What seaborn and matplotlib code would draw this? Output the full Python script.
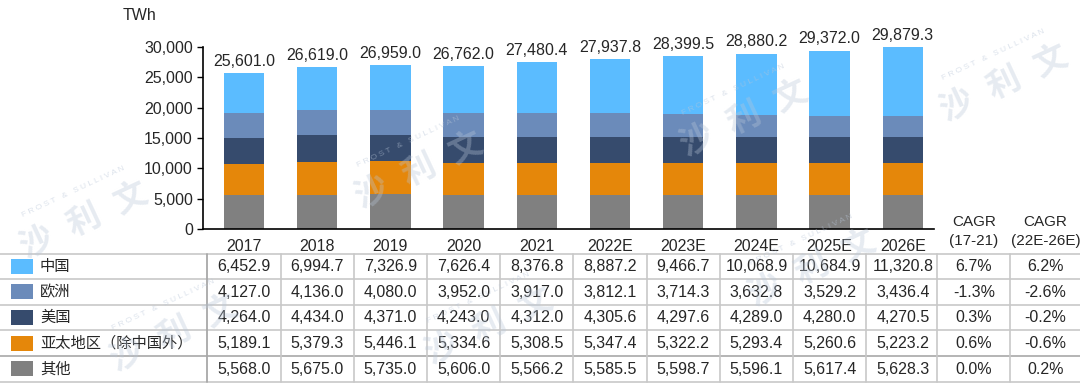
import matplotlib
matplotlib.use("Agg")
import matplotlib.pyplot as plt
import seaborn as sns
import pandas as pd

# 数据
years = ["2017", "2018", "2019", "2020", "2021", "2022E", "2023E", "2024E", "2025E", "2026E"]
regions = ["中国", "欧洲", "美国", "亚太地区（除中国外）", "其他"]
china = [6452.9, 6994.7, 7326.9, 7626.4, 8376.8, 8887.2, 9466.7, 10068.9, 10684.9, 11320.8]
europe = [4127.0, 4136.0, 4080.0, 3952.0, 3917.0, 3812.1, 3714.3, 3632.8, 3529.2, 3436.4]
usa = [4264.0, 4434.0, 4371.0, 4243.0, 4312.0, 4305.6, 4297.6, 4289.0, 4280.0, 4270.5]
apac = [5189.1, 5379.3, 5446.1, 5334.6, 5308.5, 5347.4, 5322.2, 5293.4, 5260.6, 5223.2]
others = [5568.0, 5675.0, 5735.0, 5606.0, 5566.2, 5585.5, 5598.7, 5596.1, 5617.4, 5628.3]
totals = [25601.0, 26619.0, 26959.0, 26762.0, 27480.4, 27937.8, 28399.5, 28880.2, 29372.0, 29879.3]
cagr_17_21 = ["6.7%", "-1.3%", "0.3%", "0.6%", "0.0%"]
cagr_22_26 = ["6.2%", "-2.6%", "-0.2%", "-0.6%", "0.2%"]
colors = ["#5BBCFF", "#6B8BBA", "#364B6D", "#E5870A", "#808080"]

df = pd.DataFrame({"year": years, "中国": china, "欧洲": europe, "美国": usa,
                   "亚太地区（除中国外）": apac, "其他": others})

sns.set_theme(style="white")
plt.rcParams["font.family"] = ["Liberation Sans", "Noto Sans CJK SC", "DejaVu Sans"]
plt.rcParams["font.size"] = 11

W, H = 1080, 391
fig = plt.figure(figsize=(W / 100, H / 100), dpi=100)

# 像素坐标换算
px0, px1 = 202.7, 934.0
unit = 73.2
c0 = 244.0
ax = fig.add_axes([px0 / W, 1 - 229.3 / H, (px1 - px0) / W, (229.3 - 46.7) / H])

# 堆叠柱：从上往下画累计值
stack = ["其他", "亚太地区（除中国外）", "美国", "欧洲", "中国"]
stack_colors = dict(zip(regions, colors))
cum = df[stack].cumsum(axis=1)
for name in reversed(stack):
    sns.barplot(x=df["year"], y=cum[name], color=stack_colors[name], saturation=1,
                width=0.55, ax=ax, linewidth=0)

for i, t in enumerate(totals):
    ax.annotate(f"{t:,.1f}", (i, cum["中国"][i]), xytext=(0, 3), textcoords="offset points",
                ha="center", va="bottom", fontsize=11.5, clip_on=False)

ax.set_xlim((px0 - c0) / unit, (px1 - c0) / unit)
ax.set_ylim(0, 30000)
ax.set_yticks(range(0, 30001, 5000))
ax.set_yticklabels([f"{v:,}" for v in range(0, 30001, 5000)], fontsize=11.5)
ax.tick_params(axis="y", left=True, length=4, width=1, color="black", pad=3)
ax.tick_params(axis="x", bottom=False, pad=1, labelsize=11.5)
ax.set_xlabel("")
ax.set_ylabel("")
ax.patch.set_alpha(0)
for s in ["top", "right"]:
    ax.spines[s].set_visible(False)
for s in ["left", "bottom"]:
    ax.spines[s].set_color("black")
    ax.spines[s].set_linewidth(1.2)
fig.text(123 / W, 1 - 16 / H, "TWh", fontsize=11.5, ha="left", va="center")

# 数据表：与柱子共用 x 单位
tb = fig.add_axes([0, 0, 1, 1])
tb.set_xlim(-c0 / unit, (W - c0) / unit)
tb.set_ylim(H, 0)
tb.axis("off")
tb.patch.set_alpha(0)

row_top = 253.5
row_h = 25.6
x_left = -c0 / unit
x_leg = -0.5
x_right = (W - c0) / unit
grid = "#c8c8c8"

# 表头
x_cagr = [9.97, 10.95]
for xc, lab in zip(x_cagr, ["(17-21)", "(22E-26E)"]):
    tb.text(xc, 222, "CAGR", ha="center", va="center", fontsize=11)
    tb.text(xc, 240.5, lab, ha="center", va="center", fontsize=11)

for k in range(len(regions) + 1):
    y = row_top + k * row_h
    tb.plot([x_left, x_right], [y, y], color="#a8a8a8" if k == 4 else grid, lw=1.2)
tb.plot([x_leg, x_leg], [row_top, row_top + 5 * row_h], color="#a8a8a8", lw=1.3)
for i in range(1, 12):
    xv = i - 0.5
    if i == 10:
        xv = 9.5 - 2.4 / unit
    if i == 11:
        xv = 9.5 + 71 / unit
    tb.plot([xv, xv], [row_top, row_top + 5 * row_h], color=grid, lw=1.2)

series = [china, europe, usa, apac, others]
for r, (name, vals) in enumerate(zip(regions, series)):
    yc = row_top + (r + 0.5) * row_h
    sw_x = (11 - c0) / unit
    tb.add_patch(plt.Rectangle((sw_x, yc - 7.5), 22 / unit, 15, color=colors[r], lw=0))
    tb.text((40 - c0) / unit, yc + 0.5, name, ha="left", va="center", fontsize=11)
    for i, v in enumerate(vals):
        tb.text(i, yc + 0.5, f"{v:,.1f}", ha="center", va="center", fontsize=11.5)
    tb.text(x_cagr[0], yc + 0.5, cagr_17_21[r], ha="center", va="center", fontsize=11.5)
    tb.text(x_cagr[1], yc + 0.5, cagr_22_26[r], ha="center", va="center", fontsize=11.5)

# 水印（淡色）
wm = fig.add_axes([0, 0, 1, 1])
wm.set_xlim(0, W)
wm.set_ylim(H, 0)
wm.axis("off")
wm.patch.set_alpha(0)
for (wx, wy) in [(85, 222), (420, 172), (745, 120), (1005, 85), (175, 335), (490, 328), (813, 270)]:
    wm.text(wx, wy, "沙  利  文", fontsize=24, color="#b9c6d8", alpha=0.35,
            rotation=25, ha="center", va="center", fontweight="bold", clip_on=True)
    wm.text(wx - 12, wy - 30, "F R O S T   &   S U L L I V A N", fontsize=6, color="#b9c6d8",
            alpha=0.5, rotation=25, ha="center", va="center", clip_on=True)

fig.savefig("out.png", dpi=100)
